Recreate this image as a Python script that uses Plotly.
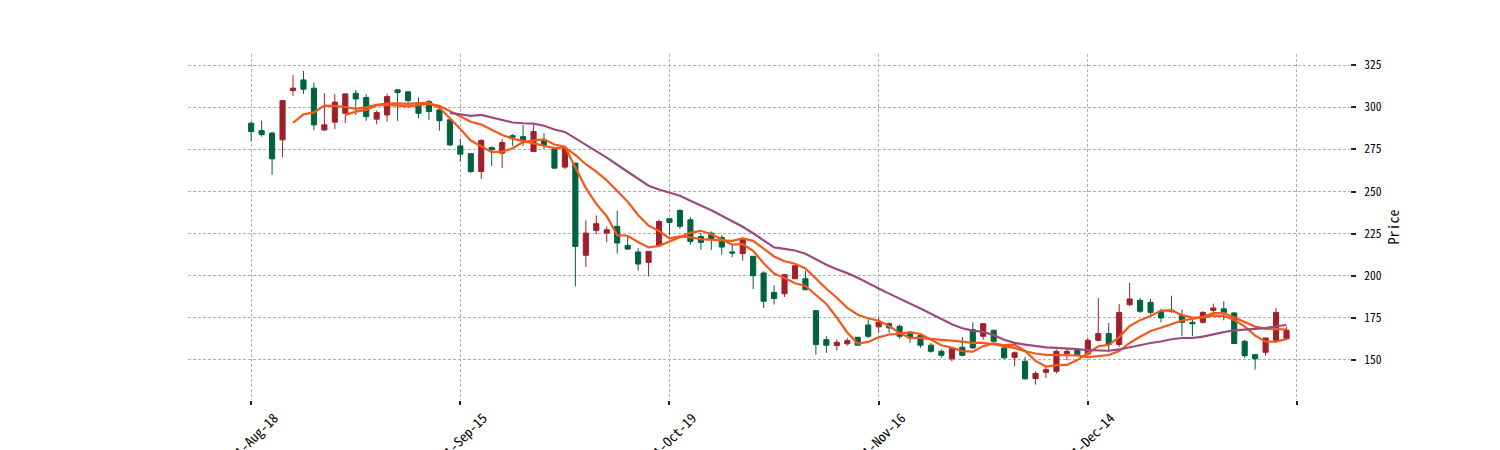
import pandas as pd
import plotly.graph_objects as go

# ---- data ----
start_date = "2021-08-18"
n_days = 100
market_holidays = ["2021-09-22", "2021-10-01", "2021-10-13", "2021-10-14", "2021-12-27"]

open_ = [290.6, 286.2, 284.7, 280.7, 310.0, 316.3, 311.4, 286.6, 291.2, 296.5,
         308.4, 305.8, 293.0, 295.5, 310.4, 309.2, 302.8, 303.4, 298.5, 292.6,
         277.1, 272.5, 261.9, 276.1, 272.8, 283.2, 282.6, 273.7, 280.3, 275.2,
         264.5, 266.9, 212.1, 226.9, 225.3, 229.3, 218.0, 214.1, 207.9, 217.8,
         233.8, 238.7, 233.2, 223.3, 225.3, 222.7, 214.1, 213.1, 211.5, 201.6,
         190.1, 189.3, 198.2, 198.2, 179.2, 162.0, 158.5, 159.5, 163.4, 170.7,
         169.6, 171.5, 169.9, 165.6, 164.4, 158.7, 155.1, 150.6, 157.5, 168.0,
         164.0, 167.6, 157.1, 151.5, 149.2, 138.9, 142.6, 143.2, 153.7, 156.1,
         153.5, 161.6, 165.6, 159.1, 182.8, 185.4, 184.2, 178.8, 179.5, 176.3,
         172.3, 172.3, 179.4, 180.3, 177.9, 161.0, 153.1, 154.5, 161.6, 162.5]
high = [291.5, 292.1, 285.6, 304.3, 319.2, 321.6, 314.7, 308.4, 307.8, 308.3,
        310.4, 307.8, 298.1, 308.0, 310.6, 309.5, 306.0, 304.4, 300.4, 292.8,
        281.3, 272.8, 281.1, 276.7, 281.1, 284.1, 289.6, 289.6, 284.7, 275.5,
        276.7, 267.0, 232.8, 235.8, 229.3, 238.7, 223.7, 216.4, 214.6, 233.2,
        234.2, 239.6, 234.8, 225.3, 226.3, 224.3, 218.4, 222.7, 211.8, 202.6,
        194.3, 200.8, 206.5, 203.0, 179.5, 164.0, 162.0, 163.0, 163.6, 174.1,
        175.0, 172.3, 171.0, 166.4, 166.0, 160.1, 156.1, 156.9, 163.6, 172.3,
        171.7, 167.8, 158.0, 155.1, 151.8, 143.2, 146.2, 156.1, 156.5, 156.5,
        163.0, 186.8, 171.9, 183.2, 195.7, 186.8, 186.2, 180.3, 188.1, 179.8,
        174.3, 178.8, 183.4, 184.8, 178.2, 162.0, 153.3, 163.0, 180.8, 169.6]
low = [280.1, 282.6, 259.9, 270.4, 306.8, 308.0, 286.6, 286.0, 287.0, 290.6,
       295.5, 292.0, 290.0, 291.5, 292.0, 302.5, 293.6, 292.6, 286.2, 277.1,
       267.8, 260.9, 257.4, 265.3, 263.9, 277.1, 277.1, 273.5, 275.2, 263.5,
       263.3, 193.7, 205.2, 224.7, 219.8, 213.1, 215.4, 203.0, 199.6, 217.5,
       224.3, 227.7, 218.4, 215.4, 215.4, 212.5, 211.1, 208.9, 192.1, 180.8,
       182.8, 187.4, 198.0, 191.3, 153.1, 154.2, 155.5, 158.5, 158.3, 163.0,
       166.0, 166.0, 162.5, 160.1, 157.1, 154.2, 151.2, 149.2, 152.1, 156.5,
       162.0, 160.5, 150.5, 146.2, 138.3, 135.3, 139.3, 141.9, 149.8, 152.0,
       152.5, 161.0, 154.5, 157.7, 181.8, 177.9, 175.9, 172.3, 177.9, 164.0,
       164.0, 171.5, 176.9, 173.5, 159.5, 151.2, 144.2, 152.5, 161.0, 161.6]
close = [285.6, 283.8, 269.4, 304.0, 311.4, 310.8, 289.6, 289.6, 303.1, 308.0,
         305.0, 294.5, 296.9, 306.4, 308.8, 304.0, 296.5, 297.5, 292.1, 277.7,
         272.2, 261.9, 280.3, 274.8, 279.1, 282.3, 280.3, 285.6, 277.7, 263.9,
         275.8, 217.4, 225.3, 230.9, 227.3, 219.4, 215.8, 206.9, 214.4, 232.2,
         231.6, 229.3, 220.4, 219.8, 221.8, 217.0, 213.5, 221.4, 200.0, 184.8,
         186.4, 200.6, 205.9, 191.7, 159.1, 158.7, 160.4, 161.4, 158.7, 164.0,
         172.3, 169.0, 164.0, 163.0, 158.7, 155.1, 152.7, 156.7, 152.7, 157.1,
         171.5, 161.0, 151.2, 154.2, 138.7, 141.9, 144.2, 155.1, 155.1, 153.1,
         161.6, 165.6, 159.1, 178.2, 186.2, 178.8, 178.2, 174.9, 178.8, 172.3,
         171.4, 178.2, 180.8, 178.2, 159.7, 152.5, 150.6, 163.0, 178.2, 167.6]

mav_windows = [5, 10, 20]
mav_colors = ["#f4581a", "#f4581a", "#9c4a80"]
up_color = "#a0202a"
down_color = "#006340"
tick_step = 20

# ---- build ----
dates = pd.bdate_range(start=start_date, periods=n_days, freq="C", holidays=market_holidays)
x = list(range(len(dates)))
close_s = pd.Series(close)

tickvals = list(range(0, len(dates) + 1, tick_step))
ticktext = [dates[i].strftime("%Y-%b-%d") if i < len(dates) else "" for i in tickvals]

fig = go.Figure()
fig.add_trace(go.Candlestick(
    x=x, open=open_, high=high, low=low, close=close,
    increasing=dict(line=dict(color=up_color, width=1), fillcolor=up_color),
    decreasing=dict(line=dict(color=down_color, width=1), fillcolor=down_color),
    showlegend=False, whiskerwidth=0,
))
for w, c in zip(mav_windows, mav_colors):
    fig.add_trace(go.Scatter(x=x, y=close_s.rolling(w).mean(), mode="lines",
                             line=dict(color=c, width=2.2), showlegend=False))

font_family = "Noto Sans Mono CJK SC, Noto Sans CJK SC, DejaVu Sans, sans-serif"
grid_color = "#b0b0b0"
# page body has an 8px default margin, so the figure is made 8px smaller
fig.update_layout(
    width=1492, height=442,
    margin=dict(l=179.5, r=150, t=46, b=49.5),
    paper_bgcolor="white", plot_bgcolor="white",
    font=dict(family=font_family, size=11.5, color="#000"),
    xaxis=dict(
        range=[-6.04, 105.07], tickmode="array", tickvals=tickvals, ticktext=ticktext,
        tickangle=-45, ticks="outside", ticklen=4, tickwidth=1.5, tickcolor="#222",
        tickfont=dict(size=13.5),
        showgrid=True, gridcolor=grid_color, griddash="3px,2px", gridwidth=0.8,
        showline=False, zeroline=False, rangeslider=dict(visible=False),
        ticklabelshift=23, ticklabelstandoff=0, automargin=False,
    ),
    yaxis=dict(
        side="right", range=[126.15, 331.7], tick0=150, dtick=25,
        ticks="outside", ticklen=5, tickwidth=1.5, tickcolor="#222",
        showgrid=True, gridcolor=grid_color, griddash="3px,2px", gridwidth=0.8,
        showline=False, zeroline=False, ticklabelstandoff=6, automargin=False,
        title=dict(text="Price", standoff=8, font=dict(size=14, family=font_family)),
    ),
)
fig.write_html("out.html")
